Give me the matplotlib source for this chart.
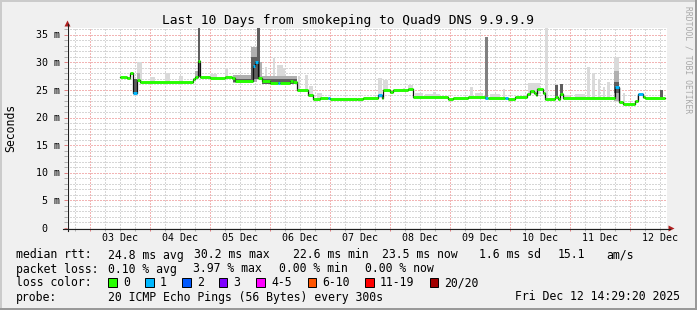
import matplotlib
matplotlib.use("Agg")
import matplotlib.pyplot as plt
import matplotlib.transforms as mtransforms
from matplotlib.patches import Rectangle, Polygon
from matplotlib.lines import Line2D
import numpy as np

# ---------------- data (time = hours since 03 Dec 00:00, values in ms) ----------------
med_t = [12.2, 15.0, 16.0, 17.2, 18.8, 20.0, 41.2, 42.2, 43.2, 44.0,
         48.2, 54.2, 56.8, 58.2, 65.2, 66.2, 67.4, 69.0, 72.2, 75.4,
         76.2, 80.2, 81.4, 83.0, 87.4, 89.4, 92.2, 95.2, 96.2, 107.0,
         109.4, 115.4, 116.8, 117.4, 120.2, 121.4, 127.4, 129.4, 143.4, 145.4,
         151.4, 158.2, 159.2, 166.2, 167.4, 170.2, 175.0, 176.2, 177.8, 178.4,
         179.0, 181.4, 182.2, 186.2, 187.4, 188.2, 189.4, 210.2, 211.8, 213.4,
         218.2, 219.4, 221.4, 222.2]
med_v = [27.3, 27.1, 28.1, 24.5, 26.8, 26.5, 26.9, 27.3, 30.2, 27.4,
         27.2, 27.4, 27.2, 26.7, 29.3, 30.1, 27.1, 26.6, 26.2, 26.3,
         26.3, 26.7, 26.4, 24.9, 24.1, 23.3, 23.6, 23.5, 23.3, 23.4,
         23.6, 24.0, 23.6, 24.9, 24.7, 24.9, 25.1, 23.8, 23.3, 23.5,
         23.7, 23.5, 23.5, 23.5, 23.3, 23.7, 24.2, 24.8, 24.4, 24.0,
         25.2, 24.4, 23.4, 23.8, 23.4, 24.2, 23.5, 25.6, 22.9, 22.5,
         23.0, 24.3, 23.8, 23.5]
med_loss = [0, 0, 0, 1, 0, 0, 0, 0, 0, 0,
            0, 0, 0, 0, 1, 1, 0, 0, 0, 1,
            0, 0, 0, 0, 0, 0, 0, 1, 0, 0,
            0, 1, 0, 0, 0, 0, 0, 0, 0, 0,
            0, 1, 0, 1, 0, 0, 0, 0, 0, 0,
            0, 0, 0, 0, 0, 0, 0, 1, 0, 0,
            0, 1, 0, 0]
data_end = 230.2

# smoke (ping spread): start, end, low, high, density (1 light .. 3 dark, 4 solid)
smoke_t0 = [17.4, 19.0, 19.0, 24.2, 30.2, 35.8, 42.2, 43.2, 48.2, 54.2,
            57.4, 57.4, 64.6, 64.6, 67.0, 68.0, 69.0, 69.0, 70.2, 73.4,
            75.0, 77.4, 83.4, 86.2, 87.8, 91.0, 115.4, 117.4, 125.4, 127.4,
            130.2, 134.2, 137.4, 152.2, 154.2, 158.2, 160.2, 165.4, 175.4, 182.2,
            186.2, 188.2, 189.4, 194.2, 199.0, 201.0, 203.4, 205.4, 207.0, 209.8,
            209.8, 209.8, 211.8, 213.4, 219.0, 228.2]
smoke_t1 = [19.0, 21.0, 20.2, 26.2, 32.2, 37.4, 43.2, 44.2, 51.0, 55.4,
            65.4, 65.4, 67.0, 67.0, 68.0, 69.0, 83.0, 83.0, 71.0, 74.2,
            77.4, 78.2, 84.2, 87.4, 89.4, 93.0, 117.0, 119.4, 126.2, 129.4,
            133.4, 140.2, 138.2, 153.4, 157.4, 159.4, 164.2, 166.2, 180.2, 183.4,
            187.4, 189.4, 192.2, 198.2, 200.2, 202.2, 204.2, 206.2, 208.2, 211.8,
            211.8, 211.8, 212.6, 214.2, 219.8, 229.4]
smoke_lo = [24.5, 26.5, 26.7, 26.5, 26.5, 26.5, 27.0, 27.3, 27.2, 27.4,
            26.2, 26.4, 26.5, 27.0, 27.0, 27.0, 26.0, 26.1, 26.5, 26.3,
            26.3, 26.3, 24.9, 24.9, 24.0, 23.3, 23.6, 24.9, 24.9, 25.1,
            23.7, 23.7, 23.7, 23.7, 23.7, 23.5, 23.5, 23.5, 24.2, 23.4,
            23.8, 24.2, 23.5, 23.5, 23.5, 23.5, 23.5, 23.5, 23.5, 22.9,
            23.0, 24.5, 22.9, 22.5, 23.0, 23.5]
smoke_hi = [27.0, 30.0, 28.0, 27.4, 28.0, 27.5, 28.5, 36.2, 27.8, 28.9,
            27.7, 27.0, 32.7, 31.0, 36.2, 30.0, 27.5, 26.9, 29.2, 30.7,
            29.5, 28.9, 27.6, 27.7, 25.7, 24.5, 27.1, 26.8, 25.4, 25.8,
            24.5, 24.2, 24.6, 25.5, 24.5, 34.5, 24.3, 25.2, 26.2, 36.2,
            25.9, 26.0, 24.0, 24.2, 29.2, 28.0, 27.0, 25.5, 26.5, 31.0,
            28.5, 26.5, 25.3, 24.4, 24.0, 24.9]
smoke_dens = [3, 1, 2, 1, 1, 1, 2, 3, 1, 1,
              2, 3, 2, 3, 3, 2, 2, 3, 1, 1,
              1, 1, 1, 1, 1, 1, 1, 1, 1, 1,
              1, 1, 1, 1, 1, 4, 1, 1, 1, 1,
              3, 3, 1, 1, 1, 1, 1, 1, 1, 1,
              2, 3, 1, 1, 1, 3]

day_labels = ["03 Dec", "04 Dec", "05 Dec", "06 Dec", "07 Dec",
              "08 Dec", "09 Dec", "10 Dec", "11 Dec", "12 Dec"]
y_ticks = [0, 5, 10, 15, 20, 25, 30, 35]
y_labels = ["0", "5 m", "10 m", "15 m", "20 m", "25 m", "30 m", "35 m"]

title = "Last 10 Days from smokeping to Quad9 DNS 9.9.9.9"
rtt_stats = ["24.8 ms avg", "30.2 ms max", "22.6 ms min", "23.5 ms now", "1.6 ms sd", "15.1", "am/s"]
loss_stats = ["0.10 % avg", "3.97 % max", "0.00 % min", "0.00 % now"]
loss_names = ["0", "1", "2", "3", "4-5", "6-10", "11-19", "20/20"]
loss_colors = ["#26ff00", "#00b8ff", "#0059ff", "#7e00ff", "#ff00ff", "#ff5500", "#ff0000", "#a10000"]
probe_text = "20 ICMP Echo Pings (56 Bytes) every 300s"
date_text = "Fri Dec 12 14:29:20 2025"

assert len(med_t) == len(med_v) == len(med_loss)
assert len(smoke_t0) == len(smoke_t1) == len(smoke_lo) == len(smoke_hi) == len(smoke_dens)

# ---------------- figure ----------------
W, H, DPI = 697, 310, 100
FONT = "DejaVu Sans Mono"
BG = "#f0f0f0"
GRID = "#d6d6d6"
MGRID = "#f2b4b4"
AXIS = "#202020"
ARROW = "#b02020"

fig = plt.figure(figsize=(W / DPI, H / DPI), dpi=DPI)
fig.patch.set_facecolor(BG)

def fx(x):
    return x / W

def fy(y):
    return 1 - y / H

ax_l, ax_r, ax_t, ax_b = 67, 667, 28, 228
ax = fig.add_axes([fx(ax_l), fy(ax_b), (ax_r - ax_l) / W, (ax_b - ax_t) / H])
ax.set_facecolor("white")
xmin, xmax = -9.0, 231.0
ymax = 36.21
ax.set_xlim(xmin, xmax)
ax.set_ylim(0, ymax)
for s in ax.spines.values():
    s.set_visible(False)

# grid (dotted, 1px on / 1px off)
hours = np.arange(-6, 231, 6)
minor_h = [h for h in hours if h % 24 != 0]
major_h = [h for h in hours if h % 24 == 0]
yv = np.arange(1, 37, 1)
minor_y = [v for v in yv if v % 5 != 0]
major_y = [v for v in yv if v % 5 == 0]
dash = (0, (1.39, 1.39))
gkw = dict(linestyles=dash, lw=0.72, antialiased=False)
ax.vlines(minor_h, 0, ymax, colors=GRID, zorder=1, **gkw)
ax.hlines(minor_y, xmin, xmax, colors=GRID, zorder=1, **gkw)
ax.vlines(major_h, 0, ymax, colors=MGRID, zorder=1.1, **gkw)
ax.hlines(major_y, xmin, xmax, colors=MGRID, zorder=1.1, **gkw)

# ticks
ax.set_xticks(major_h)
ax.set_xticks(minor_h, minor=True)
ax.set_yticks(y_ticks)
ax.set_yticks(minor_y, minor=True)
ax.tick_params(which="major", length=2.2, width=0.72, color="#e08080", direction="out",
               labelbottom=False, labelleft=False)
ax.tick_params(which="minor", length=2.2, width=0.72, color="#b0b0b0", direction="out")

# smoke
dens_colors = {1: "#dadada", 2: "#b0b0b0", 3: "#5e5e5e", 4: "#808080"}
order = [1, 4, 2, 3]
for d in order:
    idx = [i for i, v in enumerate(smoke_dens) if v == d]
    if not idx:
        continue
    x0 = np.array([smoke_t0[i] for i in idx])
    x1 = np.array([smoke_t1[i] for i in idx])
    lo = np.array([smoke_lo[i] for i in idx])
    hi = np.array([smoke_hi[i] for i in idx])
    ax.bar(x0, hi - lo, width=x1 - x0, bottom=lo, align="edge",
           color=dens_colors[d], linewidth=0, zorder=2 + d * 0.01)

# median line
t_edges = list(med_t) + [data_end]
ax.step(t_edges, list(med_v) + [med_v[-1]], where="post", color="#101010", lw=0.9, zorder=3)
ax.hlines(med_v, t_edges[:-1], t_edges[1:], colors=[loss_colors[l] for l in med_loss],
          lw=2.1, zorder=4, capstyle="butt")

# axis lines and arrows
fig.add_artist(Line2D([fx(ax_l + 0.5), fx(ax_l + 0.5)], [fy(231), fy(24)], color=AXIS, lw=0.8))
fig.add_artist(Line2D([fx(63), fx(670)], [fy(ax_b + 0.5), fy(ax_b + 0.5)], color=AXIS, lw=0.8))
fig.add_artist(Polygon([(fx(64.5), fy(26.5)), (fx(70.5), fy(26.5)), (fx(67.5), fy(20.5))],
                       closed=True, color=ARROW, lw=0))
fig.add_artist(Polygon([(fx(668.5), fy(225.5)), (fx(668.5), fy(231.5)), (fx(674.5), fy(228.5))],
                       closed=True, color=ARROW, lw=0))

# axis labels
AX_FS = 7.2
ytrans = ax.get_yaxis_transform()
for v, lab in zip(y_ticks, y_labels):
    dx = -20 if lab == "0" else -7
    off = mtransforms.ScaledTranslation(dx / DPI, -3.6 / DPI, fig.dpi_scale_trans)
    ax.text(0, v, lab, transform=ytrans + off, ha="right", va="baseline",
            family=FONT, fontsize=AX_FS, color="black", clip_on=False)
xtrans = ax.get_xaxis_transform()
offx = mtransforms.ScaledTranslation(0, -13.3 / DPI, fig.dpi_scale_trans)
for i, lab in enumerate(day_labels):
    ax.text(12 + 24 * i, 0, lab, transform=xtrans + offx, ha="center", va="baseline",
            family=FONT, fontsize=AX_FS, color="black", clip_on=False)

# title, unit, watermark
fig.text(fx(348.5), fy(24), title, ha="center", va="baseline", family=FONT, fontsize=9.3)
fig.text(fx(10.5), fy(128), "Seconds", ha="center", va="center", rotation=90,
         family=FONT, fontsize=8.3)
fig.text(fx(688), fy(60), "RRDTOOL / TOBI OETIKER", ha="center", va="center", rotation=270,
         family=FONT, fontsize=5.8, color="#a8a8a8")

# legend
LG = 8.3
def ltext(x, yc, s, ha="left"):
    fig.text(fx(x), fy(yc + 4.2), s, ha=ha, va="baseline", family=FONT, fontsize=LG)

r1, r2, r3, r4 = 254.3, 268.3, 282.3, 296.3
ltext(16, r1, "median rtt:")
for s, x in zip(rtt_stats, [107.6, 194.2, 293.3, 382.2, 479.1, 557.8, 606.7]):
    ltext(x, r1, s)
ltext(16, r2, "packet loss:")
for s, x in zip(loss_stats, [107.6, 192.9, 279.1, 365.3]):
    ltext(x, r2, s)
ltext(16, r3, "loss color:")
box_x = [108.3, 145.3, 182.2, 219.0, 256.4, 307.6, 365.3, 429.8]
for name, col, bx in zip(loss_names, loss_colors, box_x):
    fig.add_artist(Rectangle((fx(bx), fy(286.5)), 8.4 / W, 8.5 / H, facecolor=col,
                             edgecolor="black", lw=0.7))
    ltext(bx + 14.7, r3, name)
ltext(16, r4, "probe:")
ltext(107.6, r4, probe_text)
ltext(680, r4, date_text, ha="right")

# frame shading
fig.add_artist(Rectangle((0, fy(2)), 1, 2 / H, facecolor="#cbcbcb", lw=0))
fig.add_artist(Rectangle((0, 0), 2 / W, 1, facecolor="#cbcbcb", lw=0))
fig.add_artist(Rectangle((0, 0), 1, 2 / H, facecolor="#999999", lw=0))
fig.add_artist(Rectangle((fx(695), 0), 2 / W, 1, facecolor="#999999", lw=0))

fig.savefig("out.png", dpi=DPI, facecolor=BG)
